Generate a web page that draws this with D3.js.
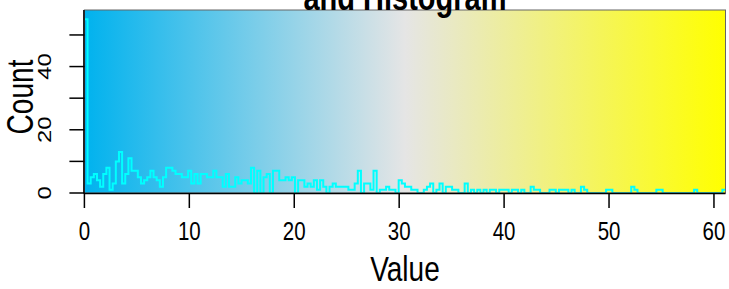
<!DOCTYPE html>
<html>
<head>
<meta charset="utf-8">
<script src="https://cdn.jsdelivr.net/npm/d3@7"></script>
<style>
  body { margin: 0; background: #fff; }
  text { font-family: "Liberation Sans", Arial, Helvetica, sans-serif; }
</style>
</head>
<body>
<div id="vis"></div>
<script>
// color key + histogram (heatmap.2 style)

var keyColors = ["#00B2EE", "#E5E5E5", "#FFFF00"];
var xTicks = [0, 10, 20, 30, 40, 50, 60];
var yTicks = [0, 10, 20, 30, 40, 50];
var yTickLabels = [0, 20, 40];
var xMax = 61.1;

// counts per bin, bins of equal width from 0 to xMax
var counts = [
    55, 3, 5, 6, 4, 2, 6, 8, 1, 3,
    10, 13, 3, 6, 11, 7, 7, 5, 3, 4,
    5, 7, 5, 4, 2, 5, 8, 8, 7, 6,
    6, 5, 5, 7, 3, 6, 3, 6, 6, 5,
    5, 7, 5, 5, 2, 6, 2, 2, 5, 3,
    4, 4, 3, 8, 0, 7, 0, 5, 6, 0,
    7, 7, 4, 4, 5, 4, 5, 0, 4, 4,
    2, 3, 2, 4, 1, 4, 2, 0, 2, 3,
    2, 2, 2, 2, 1, 1, 3, 7, 0, 3,
    3, 1, 7, 0, 1, 1, 2, 1, 1, 0,
    4, 3, 2, 2, 1, 1, 0, 0, 1, 2,
    3, 0, 1, 3, 0, 2, 2, 1, 1, 0,
    0, 3, 0, 1, 0, 1, 0, 1, 0, 1,
    1, 0, 1, 1, 1, 0, 1, 1, 0, 1,
    0, 0, 2, 1, 1, 0, 0, 0, 1, 1,
    0, 1, 1, 1, 0, 1, 0, 0, 2, 1,
    0, 0, 0, 0, 0, 0, 1, 1, 0, 0,
    0, 0, 0, 0, 2, 1, 0, 0, 0, 0,
    0, 0, 1, 1, 0, 0, 0, 0, 0, 0,
    0, 0, 0, 0, 1, 0, 0, 0, 0, 0,
    0, 0, 0, 1
];

var width = 729,
    height = 289;

var plot = {left: 84.4, right: 725.5, top: 10, bottom: 193};
var stretch = 1.25;   // the picture is a bit taller than wide

var svg = d3.select("#vis")
    .append("svg")
    .attr("width", width)
    .attr("height", height);

var x = d3.scaleLinear()
    .domain([0, xMax])
    .range([plot.left, plot.right]);

// histogram peak sits at 95% of the key height
var y = d3.scaleLinear()
    .domain([0, d3.max(counts) / 0.95])
    .range([plot.bottom, plot.top]);

////////// gradient //////////

var grad = svg.append("defs")
    .append("linearGradient")
    .attr("id", "keygrad")
    .attr("x1", "0%").attr("x2", "100%")
    .attr("y1", "0%").attr("y2", "0%");

grad.selectAll("stop")
    .data(keyColors)
    .enter()
    .append("stop")
    .attr("offset", function (d, i) { return (i / (keyColors.length - 1) * 100) + "%"; })
    .attr("stop-color", function (d) { return d; });

svg.append("rect")
    .attr("x", x(0))
    .attr("y", plot.top)
    .attr("width", x(xMax) - x(0))
    .attr("height", plot.bottom - plot.top)
    .attr("fill", "url(#keygrad)");

////////// histogram //////////

var binW = xMax / counts.length;
var stepPts = counts.map(function (c, i) { return [i * binW, c]; });
stepPts.push([xMax, counts[counts.length - 1]]);

svg.append("path")
    .datum(stepPts)
    .attr("fill", "none")
    .attr("stroke", "#00FFFF")
    .attr("stroke-width", 2)
    .attr("d", d3.line()
        .x(function (d) { return x(d[0]); })
        .y(function (d) { return y(d[1]); })
        .curve(d3.curveStepAfter));

////////// frame + axes //////////

svg.append("rect")
    .attr("x", plot.left)
    .attr("y", plot.top)
    .attr("width", plot.right - plot.left)
    .attr("height", plot.bottom - plot.top)
    .attr("fill", "none")
    .attr("stroke", "#666")
    .attr("stroke-width", 1);

svg.append("line")
    .attr("x1", plot.left - 0.5).attr("x2", plot.right)
    .attr("y1", plot.bottom + 0.5).attr("y2", plot.bottom + 0.5)
    .attr("stroke", "#000").attr("stroke-width", 1.5);

svg.append("line")
    .attr("x1", plot.left - 0.5).attr("x2", plot.left - 0.5)
    .attr("y1", plot.top).attr("y2", plot.bottom + 0.5)
    .attr("stroke", "#000").attr("stroke-width", 1.5);

// x axis
var xAxis = svg.append("g").attr("class", "x-axis");

xAxis.selectAll("line")
    .data(xTicks)
    .enter()
    .append("line")
    .attr("x1", x).attr("x2", x)
    .attr("y1", plot.bottom).attr("y2", plot.bottom + 15)
    .attr("stroke", "#000").attr("stroke-width", 1.5);

xAxis.selectAll("text")
    .data(xTicks)
    .enter()
    .append("text")
    .attr("transform", function (d) {
        return "translate(" + x(d) + ",239.5) scale(1," + stretch + ")";
    })
    .attr("text-anchor", "middle")
    .attr("font-size", 20.5)
    .text(function (d) { return d; });

svg.append("text")
    .attr("transform", "translate(" + ((plot.left + plot.right) / 2) + ",281) scale(1," + stretch + ")")
    .attr("text-anchor", "middle")
    .attr("font-size", 28)
    .text("Value");

// y axis
var yAxis = svg.append("g").attr("class", "y-axis");

yAxis.selectAll("line")
    .data(yTicks)
    .enter()
    .append("line")
    .attr("x1", plot.left - 15).attr("x2", plot.left)
    .attr("y1", y).attr("y2", y)
    .attr("stroke", "#000").attr("stroke-width", 1.5);

yAxis.selectAll("text")
    .data(yTickLabels)
    .enter()
    .append("text")
    .attr("transform", function (d) {
        return "translate(50.8," + y(d) + ") scale(1," + stretch + ") rotate(-90)";
    })
    .attr("text-anchor", "middle")
    .attr("font-size", 19)
    .text(function (d) { return d; });

// axis title: narrow along the text, like the other labels
svg.append("text")
    .attr("transform", "translate(33,97) rotate(-90) scale(0.76,1)")
    .attr("text-anchor", "middle")
    .attr("font-size", 37)
    .text("Count");

////////// title //////////

svg.append("text")
    .attr("transform", "translate(" + ((plot.left + plot.right) / 2) + ",9.5) scale(1," + stretch + ")")
    .attr("text-anchor", "middle")
    .attr("font-size", 29)
    .attr("font-weight", "bold")
    .text("and Histogram");
</script>
</body>
</html>
